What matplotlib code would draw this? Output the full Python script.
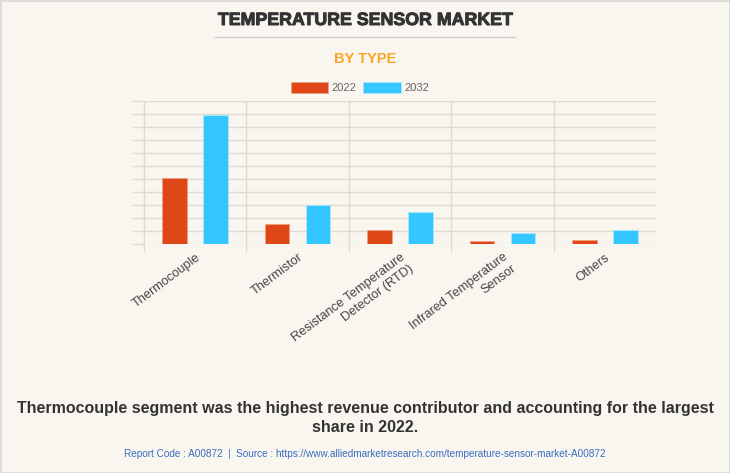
import matplotlib.pyplot as plt
import matplotlib.patheffects as pe
import numpy as np

# data (grid units, axis has no labels)
categories = ["Thermocouple", "Thermistor", "Resistance Temperature\nDetector (RTD)",
              "Infrared Temperature\nSensor", "Others"]
years = ["2022", "2032"]
values_2022 = [5.1, 1.55, 1.09, 0.25, 0.33]
values_2032 = [9.95, 2.98, 2.47, 0.86, 1.09]

bg = "#F9F6EF"
grid_col = "#DEDAD2"
orange = "#E04716"
blue = "#33C6FF"

plt.rcParams["font.family"] = ["Liberation Sans", "DejaVu Sans"]

fig = plt.figure(figsize=(7.3, 4.73), dpi=100)
fig.patch.set_facecolor(bg)
fig.patch.set_edgecolor("#DDDDDD")
fig.patch.set_linewidth(2)

ax = fig.add_axes([144 / 730, 1 - 244.3 / 473, (656.3 - 144) / 730, (244.3 - 101) / 473])
ax.set_facecolor(bg)

x = np.arange(len(categories))
w = 0.24
ax.bar(x - 0.2, values_2022, w, color=orange, edgecolor="#F0A080", linewidth=0.6, label=years[0], zorder=3)
ax.bar(x + 0.2, values_2032, w, color=blue, edgecolor="#A8E6FF", linewidth=0.6, label=years[1], zorder=3)

ax.set_xlim(-0.5, len(categories) - 0.5)
ax.set_ylim(0, 11)
ax.set_yticks(np.arange(0, 12))
ax.set_yticklabels([])
ax.tick_params(axis="y", length=9, color=grid_col, width=1)
ax.grid(axis="y", color=grid_col, linewidth=1, zorder=0)

# category boundaries
for b in np.arange(-0.5, len(categories) - 0.5, 1):
    ax.axvline(b, ymin=-0.05, ymax=1, color=grid_col, linewidth=1, zorder=0, clip_on=False)

ax.set_xticks(x)
ax.set_xticklabels(categories, rotation=37, ha="right", va="top", rotation_mode="anchor",
                   multialignment="right", fontsize=9.2, color="#444444")
ax.tick_params(axis="x", length=0, pad=5)
for s in ax.spines.values():
    s.set_visible(False)

fig.text(0.5, 1 - 20.5 / 473, "TEMPERATURE SENSOR MARKET", ha="center", va="center",
         fontsize=12.8, fontweight="bold", color="#333333",
         path_effects=[pe.withStroke(linewidth=0.7, foreground="#333333")])
fig.add_artist(plt.Line2D([215 / 730, 515 / 730], [1 - 37.3 / 473] * 2, color="#CCCCCC", linewidth=1))
fig.text(0.5, 1 - 59.3 / 473, "BY TYPE", ha="center", va="center",
         fontsize=10.5, fontweight="bold", color="#FBA526")

fig.legend(loc="center", bbox_to_anchor=(360 / 730, 1 - 87.3 / 473), ncol=2, frameon=False,
           fontsize=8, handlelength=3.4, handleheight=1.2, handletextpad=0.3,
           columnspacing=0.6, labelcolor="#666666")

fig.text(0.5, 1 - 418 / 473,
         "Thermocouple segment was the highest revenue contributor and accounting for the largest\nshare in 2022.",
         ha="center", va="center", fontsize=11.5, fontweight="bold", color="#333333", linespacing=1.35)
fig.text(0.5, 1 - 454 / 473,
         "Report Code : A00872  |  Source : https://www.alliedmarketresearch.com/temperature-sensor-market-A00872",
         ha="center", va="center", fontsize=7.2, color="#3A6CC0")

fig.savefig("out.png", dpi=100, facecolor=bg, edgecolor=fig.patch.get_edgecolor())
